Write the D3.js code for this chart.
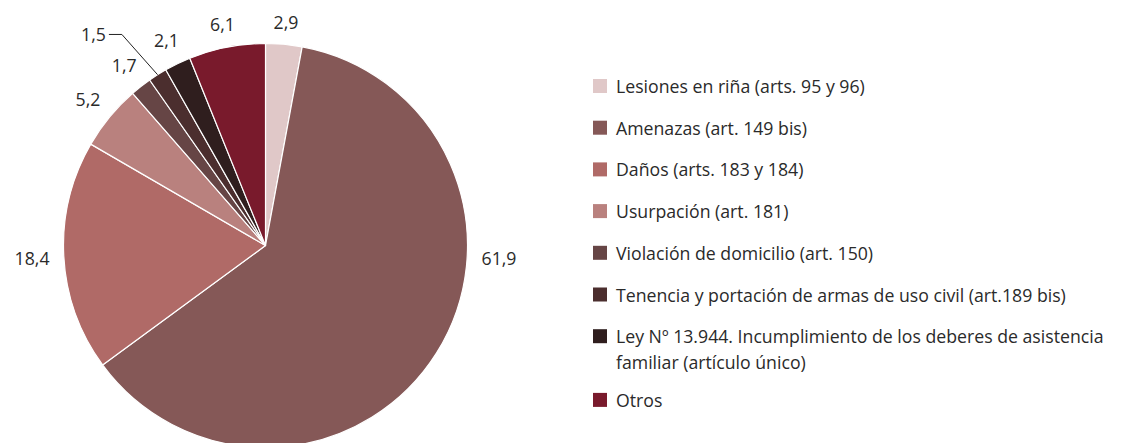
<!DOCTYPE html>
<html><head><meta charset="utf-8">
<script src="https://cdn.jsdelivr.net/npm/d3@7"></script>
<style>
body{margin:0;background:#fff;}
svg{display:block;}
text{font-family:"Open Sans", Roboto, sans-serif; fill:#2a2a2a;}
</style>
</head><body>
<svg id="chart" width="1127" height="443"></svg>
<script>
const categories = [
  "Lesiones en riña (arts. 95 y 96)",
  "Amenazas (art. 149 bis)",
  "Daños (arts. 183 y 184)",
  "Usurpación (art. 181)",
  "Violación de domicilio (art. 150)",
  "Tenencia y portación de armas de uso civil (art.189 bis)",
  "Ley Nº 13.944. Incumplimiento de los deberes de asistencia\nfamiliar (artículo único)",
  "Otros"
];
const values = [2.9, 61.9, 18.4, 5.2, 1.7, 1.5, 2.1, 6.1];
const valueLabels = ["2,9", "61,9", "18,4", "5,2", "1,7", "1,5", "2,1", "6,1"];
const colors = ["#e0c8c8", "#855857", "#b06a67", "#b9817e", "#664545", "#4b2e2e", "#2f1e1e", "#791a2c"];

const svg = d3.select("#chart");
const cx = 265.5, cy = 245.5, R = 202;
const FS = 17.7;

const pie = d3.pie().sort(null).value(d => d);
const arcs = pie(values);
const arc = d3.arc().innerRadius(0).outerRadius(R);

const g = svg.append("g").attr("transform", `translate(${cx},${cy})`);
g.selectAll("path.slice").data(arcs).enter().append("path")
  .attr("class", "slice")
  .attr("d", arc)
  .attr("fill", (d, i) => colors[i])
  .attr("stroke", "#fff")
  .attr("stroke-width", 1.2)
  .attr("stroke-linejoin", "round");

// labels
const labelAngleOverride = {1: 93 * Math.PI / 180};
const leaderIndex = 5;
arcs.forEach((d, i) => {
  const mid = (d.startAngle + d.endAngle) / 2;
  if (i === leaderIndex) {
    const p0 = [R * Math.sin(mid), -R * Math.cos(mid)];
    const el = 252;
    const p1 = [el * Math.sin(mid) - 9, -el * Math.cos(mid) + 2];
    const p2 = [p1[0] - 13, p1[1]];
    g.append("polyline")
      .attr("points", [p0, p1, p2].map(p => p.join(",")).join(" "))
      .attr("fill", "none").attr("stroke", "#222").attr("stroke-width", 1);
    g.append("text").attr("x", p2[0] - 3).attr("y", p2[1])
      .attr("text-anchor", "end").attr("dominant-baseline", "central")
      .attr("font-size", FS).text(valueLabels[i]);
    return;
  }
  const a = labelAngleOverride[i] !== undefined ? labelAngleOverride[i] : mid;
  const t = g.append("text").attr("font-size", FS)
    .attr("text-anchor", "middle").attr("dominant-baseline", "central")
    .text(valueLabels[i]);
  const w = t.node().getComputedTextLength();
  const dist = R + 14 + Math.abs(Math.sin(a)) * w / 2 + Math.abs(Math.cos(a)) * 7;
  t.attr("x", dist * Math.sin(a)).attr("y", -dist * Math.cos(a));
});

// legend
const lx = 593, ly0 = 86, step = 41.7, lineH = 25.5, sq = 14;
let extra = 0;
categories.forEach((c, i) => {
  const y = ly0 + step * i + extra;
  const lines = c.split("\n");
  svg.append("rect").attr("x", lx).attr("y", y - sq / 2).attr("width", sq).attr("height", sq)
    .attr("fill", colors[i]);
  const t = svg.append("text").attr("x", lx + 23).attr("y", y)
    .attr("dominant-baseline", "central").attr("font-size", FS);
  lines.forEach((ln, k) => {
    t.append("tspan").attr("x", lx + 23).attr("y", y + k * lineH).text(ln);
  });
  extra += (lines.length - 1) * 22;
});
</script>
</body></html>
